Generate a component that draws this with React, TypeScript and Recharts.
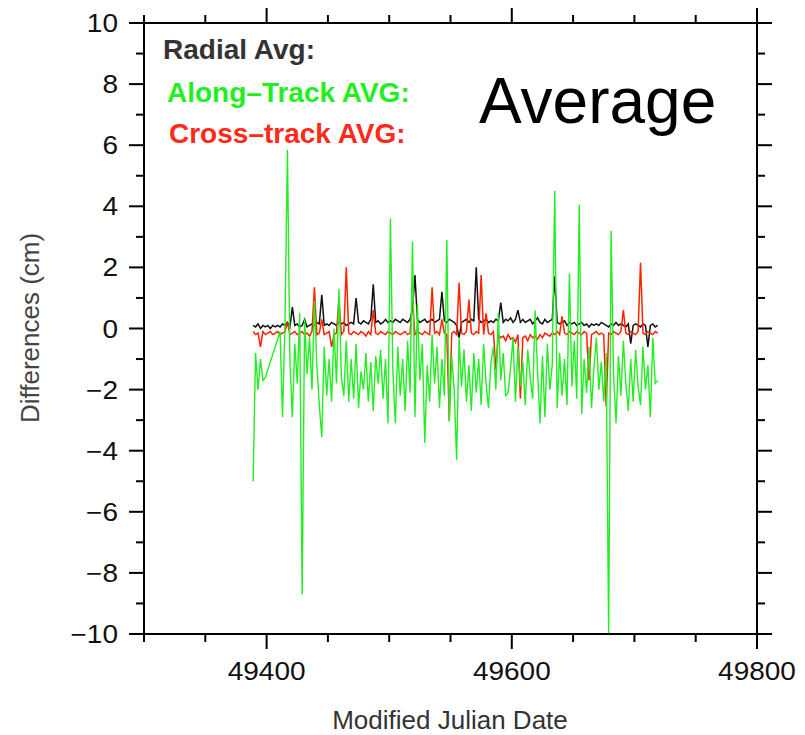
import React from 'react';
import { LineChart, Line, XAxis, YAxis } from 'recharts';

// MJD sample days (every second day)
const days = [
  49389, 49391, 49393, 49395, 49397, 49399, 49401, 49403, 49405, 49407,
  49409, 49411, 49413, 49415, 49417, 49419, 49421, 49423, 49425, 49427,
  49429, 49431, 49433, 49435, 49437, 49439, 49441, 49443, 49445, 49447,
  49449, 49451, 49453, 49455, 49457, 49459, 49461, 49463, 49465, 49467,
  49469, 49471, 49473, 49475, 49477, 49479, 49481, 49483, 49485, 49487,
  49489, 49491, 49493, 49495, 49497, 49499, 49501, 49503, 49505, 49507,
  49509, 49511, 49513, 49515, 49517, 49519, 49521, 49523, 49525, 49527,
  49529, 49531, 49533, 49535, 49537, 49539, 49541, 49543, 49545, 49547,
  49549, 49551, 49553, 49555, 49557, 49559, 49561, 49563, 49565, 49567,
  49569, 49571, 49573, 49575, 49577, 49579, 49581, 49583, 49585, 49587,
  49589, 49591, 49593, 49595, 49597, 49599, 49601, 49603, 49605, 49607,
  49609, 49611, 49613, 49615, 49617, 49619, 49621, 49623, 49625, 49627,
  49629, 49631, 49633, 49635, 49637, 49639, 49641, 49643, 49645, 49647,
  49649, 49651, 49653, 49655, 49657, 49659, 49661, 49663, 49665, 49667,
  49669, 49671, 49673, 49675, 49677, 49679, 49681, 49683, 49685, 49687,
  49689, 49691, 49693, 49695, 49697, 49699, 49701, 49703, 49705, 49707,
  49709, 49711, 49713, 49715, 49717, 49719,
];

const radial = [
  0.1, 0.05, 0.15, 0.0, 0.1, 0.05, 0.1, 0.0, 0.1, 0.05,
  0.1, 0.05, 0.15, 0.1, 0.2, 0.05, 0.7, 0.1, 0.15, 0.05,
  0.1, 0.3, 0.05, 0.1, 0.15, 0.1, 0.2, 0.15, 1.1, 0.1,
  0.15, 0.1, 0.2, 0.15, 0.1, 0.2, 0.15, 0.2, 0.1, 0.15,
  0.2, 0.15, 1.0, 0.2, 0.15, 0.25, 0.2, 0.15, 0.3, 1.45,
  0.2, 0.25, 0.15, 0.2, 0.3, 0.2, 0.25, 0.2, 0.3, 0.25,
  0.2, 0.3, 0.25, 0.2, 0.3, 0.6, 1.75, 0.3, 0.2, 0.25,
  0.3, 0.2, 0.25, 0.3, 0.2, 0.25, 0.3, 1.2, 0.25, 0.2,
  0.3, 0.25, 0.2, 0.1, -0.3, 0.2, 0.25, 0.3, 0.2, 0.3,
  0.25, 2.0, 0.3, 0.2, 0.25, 0.3, 0.2, 0.25, 0.2, 0.3,
  0.25, 0.85, 0.2, 0.3, 0.25, 0.35, 0.2, 0.3, 0.6, 0.2,
  0.3, 0.2, 0.25, 0.3, 0.15, 0.25, 0.35, 0.2, 0.15, 0.3,
  0.2, 0.25, 0.3, 1.7, 0.2, 0.15, 0.2, 0.25, 0.1, 0.2,
  0.15, 0.2, 0.1, 0.15, 0.2, 0.1, 0.15, 0.05, 0.15, 0.1,
  0.15, 0.1, 0.2, 0.15, 0.1, 0.05, 0.15, 0.1, 0.2, 0.1,
  0.15, 0.1, 0.05, 0.15, -0.5, 0.1, 0.15, 0.1, 0.05, 0.15,
  0.1, -0.6, 0.1, 0.15, 0.05, 0.1,
];

const alongTrack = [
  -5.0, -0.8, -2.0, -1.0, -1.7, -1.6, null, null, null, null,
  null, -0.1, -2.9, 0.2, 5.85, -1.0, -2.9, -0.5, -1.8, 0.5,
  -8.7, 0.3, -1.5, -0.3, -2.0, 0.9, -1.2, -2.5, -3.55, -0.6,
  -2.2, -1.0, -2.4, 0.0, -1.8, 1.3, -1.6, -2.2, -0.4, -2.4,
  -1.0, -2.3, -0.5, -2.6, -1.4, -2.0, -0.8, -2.4, -1.1, -2.7,
  -0.9, -1.8, -0.7, -2.3, -1.0, -3.1, 3.6, -1.4, -3.1, -0.6,
  -2.2, -1.0, -2.7, -0.4, -2.1, 2.85, -2.9, 0.8, -1.7, -0.5,
  -3.75, -1.2, -2.4, -0.2, -1.8, -0.6, -2.6, -1.0, -2.2, 2.9,
  -3.05, -0.9, -2.0, -4.3, -0.3, -1.9, -0.7, -2.4, -1.2, -2.7,
  -0.8, -2.1, -1.0, -2.5, -0.5, -1.8, -2.6, -1.1, -0.6, -2.0,
  0.5, -1.7, -0.8, -2.2, -2.1, -1.3, -0.3, -2.4, -0.6, -1.9,
  -1.1, -2.5, -0.7, -1.6, -2.3, 0.6, -1.4, -3.1, -0.9, -2.9,
  -0.5, -2.0, -1.2, 4.5, -2.6, -0.8, -2.2, -1.0, -2.5, 1.8,
  -1.9, -0.4, -2.3, 4.05, -2.8, -1.0, -2.1, -0.6, -2.6, -1.3,
  -0.3, -2.0, -1.1, -2.4, -0.8, -10, 3.2, -1.5, -3.1, -0.9,
  -2.2, -0.4, -1.8, -2.7, -1.0, -2.4, -0.7, -1.9, -2.5, -0.6,
  -2.0, -1.2, -2.9, -0.3, -1.8, -1.7,
];

const crossTrack = [
  -0.1, -0.2, -0.15, -0.6, -0.1, -0.2, -0.15, -0.1, -0.2, -0.15,
  -0.1, -0.2, -0.15, -0.1, 0.2, -0.2, -0.15, -0.1, -0.2, -0.15,
  -0.1, -0.2, -0.15, -0.25, -0.1, 1.35, -0.2, -0.15, 0.3, -0.2,
  -0.15, -0.1, -0.6, -0.2, -0.15, 1.0, -0.2, -0.1, 2.0, -0.15,
  -0.2, -0.1, -0.15, -0.2, -0.1, -0.15, -0.25, -0.1, -0.2, 0.6,
  -0.15, -0.2, -0.1, -0.15, -0.2, -0.1, -0.15, -0.2, -0.1, -0.15,
  -0.2, -0.15, -0.1, -0.2, -0.15, 0.9, -0.2, -0.1, -0.15, -0.2,
  -0.1, -0.15, -0.2, 1.35, -0.15, -0.1, -0.2, 0.3, -0.15, -0.2,
  -3.0, -0.15, -0.1, -0.2, 1.5, -0.15, -0.2, -0.1, 0.95, -0.15,
  -0.2, -0.1, -0.15, 1.75, -0.2, 0.5, -0.15, -0.2, -0.1, -1.35,
  -0.2, -0.3, -0.25, -0.4, -0.2, -0.35, -0.3, -0.45, -0.2, -2.3,
  -0.3, -0.25, -0.4, -0.2, -0.3, -0.25, -0.35, -0.2, -0.3, -0.15,
  -0.2, -0.25, -0.15, -0.2, -0.1, -0.2, 0.4, -0.15, -0.2, -0.1,
  -0.15, -0.2, -0.1, -0.15, -0.2, -0.1, -0.15, -1.7, -0.2, -0.15,
  -0.1, -0.2, -0.15, -0.2, -2.55, -0.15, -0.2, -0.1, -0.15, -0.2,
  -0.1, 0.6, -0.15, -0.2, -0.1, -0.15, -0.2, -0.1, 2.15, -0.15,
  -0.2, -0.1, -0.15, -0.2, -0.1, -0.15,
];

const xTicks = [49300, 49350, 49400, 49450, 49500, 49550, 49600, 49650, 49700, 49750, 49800];
const xLabels = [49400, 49600, 49800];
const yTicks = [-10, -9, -8, -7, -6, -5, -4, -3, -2, -1, 0, 1, 2, 3, 4, 5, 6, 7, 8, 9, 10];
const yLabels = [-10, -8, -6, -4, -2, 0, 2, 4, 6, 8, 10];

const rows = days.map((d, i) => ({
  mjd: d,
  radial: radial[i],
  along: alongTrack[i],
  cross: crossTrack[i],
}));

const FONT = '"Liberation Sans", Arial, Helvetica, sans-serif';
const MAJOR = 15;
const MINOR = 8;

const fmt = (v: number) => (v < 0 ? '\u2212' + Math.abs(v) : String(v));

const BottomTick = (props: any) => {
  const { x, y, payload } = props;
  const v = payload.value;
  const lab = xLabels.includes(v);
  return (
    <g>
      <line x1={x} x2={x} y1={y} y2={y + (lab ? MAJOR : MINOR)} stroke="#000" strokeWidth={2} />
      {lab && (
        <text
          transform={`translate(${x},${y + 46}) scale(1.12,1)`}
          textAnchor="middle"
          fontFamily={FONT}
          fontSize={25}
          fill="#111"
        >
          {v}
        </text>
      )}
    </g>
  );
};

const TopTick = (props: any) => {
  const { x, y, payload } = props;
  const lab = xLabels.includes(payload.value);
  return <line x1={x} x2={x} y1={y} y2={y - (lab ? MAJOR : MINOR)} stroke="#000" strokeWidth={2} />;
};

const LeftTick = (props: any) => {
  const { x, y, payload } = props;
  const v = payload.value;
  const lab = yLabels.includes(v);
  return (
    <g>
      <line x1={x} x2={x - (lab ? MAJOR : MINOR)} y1={y} y2={y} stroke="#000" strokeWidth={2} />
      {lab && (
        <text
          transform={`translate(${x - 26},${y}) scale(1.12,1)`}
          dy="0.36em"
          textAnchor="end"
          fontFamily={FONT}
          fontSize={25}
          fill="#111"
        >
          {fmt(v)}
        </text>
      )}
    </g>
  );
};

const RightTick = (props: any) => {
  const { x, y, payload } = props;
  const lab = yLabels.includes(payload.value);
  return <line x1={x} x2={x + (lab ? MAJOR : MINOR)} y1={y} y2={y} stroke="#000" strokeWidth={2} />;
};

export default function App() {
  const axisLine = { stroke: '#000', strokeWidth: 2 };
  return (
    <div style={{ position: 'absolute', left: 0, top: 0, width: 805, height: 735, background: '#fff' }}>
      <LineChart
        width={805}
        height={735}
        data={rows}
        margin={{ top: 8, left: 84, right: 33, bottom: 41 }}
      >
        <XAxis
          dataKey="mjd"
          type="number"
          domain={[49300, 49800]}
          ticks={xTicks}
          interval={0}
          height={60}
          tickSize={0}
          tickMargin={0}
          tickLine={false}
          axisLine={axisLine}
          tick={(p: any) => <BottomTick {...p} />}
        />
        <XAxis
          xAxisId="top"
          orientation="top"
          dataKey="mjd"
          type="number"
          domain={[49300, 49800]}
          ticks={xTicks}
          interval={0}
          height={15}
          tickSize={0}
          tickMargin={0}
          tickLine={false}
          axisLine={axisLine}
          tick={(p: any) => <TopTick {...p} />}
        />
        <YAxis
          type="number"
          domain={[-10, 10]}
          ticks={yTicks}
          interval={0}
          width={60}
          allowDataOverflow
          tickSize={0}
          tickMargin={0}
          tickLine={false}
          axisLine={axisLine}
          tick={(p: any) => <LeftTick {...p} />}
        />
        <YAxis
          yAxisId="right"
          orientation="right"
          type="number"
          domain={[-10, 10]}
          ticks={yTicks}
          interval={0}
          width={15}
          allowDataOverflow
          tickSize={0}
          tickMargin={0}
          tickLine={false}
          axisLine={axisLine}
          tick={(p: any) => <RightTick {...p} />}
        />
        <Line dataKey="radial" type="linear" stroke="#111" strokeWidth={1.5} dot={false} isAnimationActive={false} />
        <Line dataKey="cross" type="linear" stroke="#ff2200" strokeWidth={1.5} dot={false} isAnimationActive={false} />
        <Line
          dataKey="along"
          type="linear"
          stroke="#22ee22"
          strokeWidth={1.4}
          dot={false}
          connectNulls
          isAnimationActive={false}
        />
      </LineChart>
      <svg
        width={805}
        height={735}
        style={{ position: 'absolute', left: 0, top: 0, pointerEvents: 'none' }}
        fontFamily={FONT}
      >
        <text x={163} y={59} fontSize={28} fontWeight="bold" fill="#333">Radial Avg:</text>
        <text x={167} y={102} fontSize={28} fontWeight="bold" fill="#22ee22">Along{'\u2013'}Track AVG:</text>
        <text x={169} y={143} fontSize={28} fontWeight="bold" fill="#ff2a1a">Cross{'\u2013'}track AVG:</text>
        <text x={479} y={123} fontSize={64} fill="#000">Average</text>
        <text x={450} y={729} fontSize={26} textAnchor="middle" fill="#333">Modified Julian Date</text>
        <text
          x={39}
          y={328}
          fontSize={26}
          textAnchor="middle"
          fill="#444"
          transform="rotate(-90 39 328)"
        >
          Differences (cm)
        </text>
      </svg>
    </div>
  );
}
